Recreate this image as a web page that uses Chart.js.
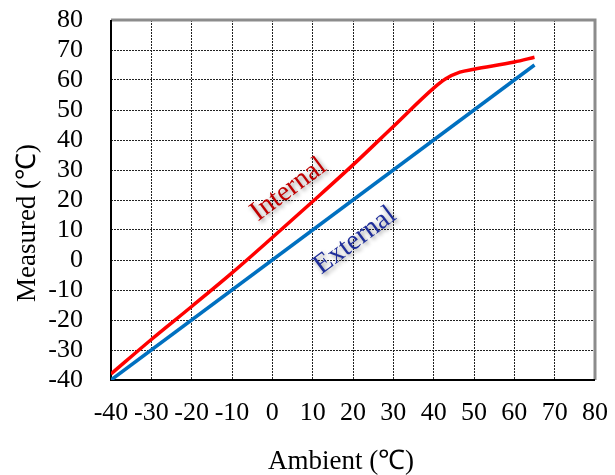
<!DOCTYPE html>
<html>
<head>
<meta charset="utf-8">
<script src="https://cdn.jsdelivr.net/npm/chart.js@4/dist/chart.umd.min.js"></script>
<style>
  html, body { margin: 0; padding: 0; background: #fff; }
  #wrap { width: 615px; height: 475px; position: relative; }
</style>
</head>
<body>
<div id="wrap"><canvas id="c"></canvas></div>
<script>
// Data
const internalX = [-40, -30, -20, -10, 0, 10, 20, 30, 40, 43, 46.5, 50, 60, 65];
const internalY = [-38, -26.5, -15.5, -4.3, 7.5, 19.5, 31.7, 44.5, 57.3, 60.4, 62.6, 63.6, 66, 67.6];
const externalX = [-40, 65];
const externalY = [-40, 65];
const xTicks = [-40, -30, -20, -10, 0, 10, 20, 30, 40, 50, 60, 70, 80];
const yTicks = [-40, -30, -20, -10, 0, 10, 20, 30, 40, 50, 60, 70, 80];
const xTitle = 'Ambient (℃)';
const yTitle = 'Measured (℃)';

// in-plot labels: text, data position, colour
const curveLabels = [
    { text: 'Internal', x: 4, y: 23.5, color: '#C00000' },
    { text: 'External', x: 20.5, y: 6.5, color: '#1F2E9A' }
];

const serif = "'Liberation Serif', 'Times New Roman', serif";

const toPoints = (xs, ys) => xs.map((x, i) => ({ x: x, y: ys[i] }));

const frame = {
    id: 'frame',
    beforeDatasetsDraw(chart) {
        const { ctx, chartArea: a } = chart;
        ctx.save();
        // grey top & right edge, black left & bottom
        ctx.strokeStyle = '#8c8c8c';
        ctx.lineWidth = 3;
        ctx.beginPath();
        ctx.moveTo(a.left, a.top);
        ctx.lineTo(a.right, a.top);
        ctx.lineTo(a.right, a.bottom);
        ctx.stroke();
        ctx.strokeStyle = '#000';
        ctx.lineWidth = 2;
        ctx.beginPath();
        ctx.moveTo(a.left, a.top);
        ctx.lineTo(a.left, a.bottom);
        ctx.lineTo(a.right, a.bottom);
        ctx.stroke();
        ctx.restore();
    }
};

const labelsPlugin = {
    id: 'curveLabels',
    afterDatasetsDraw(chart) {
        const { ctx, scales } = chart;
        const ang = Math.atan2(scales.y.getPixelForValue(0) - scales.y.getPixelForValue(10),
                               scales.x.getPixelForValue(10) - scales.x.getPixelForValue(0));
        ctx.save();
        ctx.font = '28px ' + serif;
        ctx.textAlign = 'center';
        ctx.textBaseline = 'middle';
        curveLabels.forEach(l => {
            ctx.save();
            ctx.translate(scales.x.getPixelForValue(l.x), scales.y.getPixelForValue(l.y));
            ctx.rotate(-ang);
            ctx.shadowColor = 'rgba(0,0,0,0.45)';
            ctx.shadowBlur = 4;
            ctx.shadowOffsetX = 2;
            ctx.shadowOffsetY = 2;
            ctx.fillStyle = l.color;
            ctx.fillText(l.text, 0, 0);
            ctx.restore();
        });

        // axis titles (slightly off-centre, as in the original)
        const a = chart.chartArea;
        ctx.font = '27px ' + serif;
        ctx.fillStyle = '#000';
        ctx.fillText(xTitle, (a.left + a.right) / 2 - 12, a.bottom + 82);
        ctx.translate(28, (a.top + a.bottom) / 2 + 23);
        ctx.rotate(-Math.PI / 2);
        ctx.fillText(yTitle, 0, 0);
        ctx.restore();
    }
};

new Chart(document.getElementById('c'), {
    type: 'scatter',
    data: {
        datasets: [
            {
                label: 'Internal',
                data: toPoints(internalX, internalY),
                showLine: true,
                borderColor: '#FF0000',
                borderWidth: 3.5,
                pointRadius: 0,
                cubicInterpolationMode: 'monotone'
            },
            {
                label: 'External',
                data: toPoints(externalX, externalY),
                showLine: true,
                borderColor: '#0070C0',
                borderWidth: 3.5,
                pointRadius: 0
            }
        ]
    },
    options: {
        responsive: true,
        maintainAspectRatio: false,
        animation: false,
        layout: { padding: { top: 20, right: 20, left: 0, bottom: 0 } },
        plugins: {
            legend: { display: false },
            tooltip: { enabled: false }
        },
        scales: {
            x: {
                type: 'linear',
                min: -40,
                max: 80,
                afterBuildTicks: s => { s.ticks = xTicks.map(v => ({ value: v })); },
                afterFit: s => { s.height = 95; s.paddingLeft = 0; s.paddingRight = 0; },
                border: { display: false, dash: [2, 1] },
                grid: { color: '#222', lineWidth: 1, drawTicks: false },
                ticks: { color: '#000', padding: 18, autoSkip: false, font: { family: serif, size: 26 }, maxRotation: 0 }
            },
            y: {
                type: 'linear',
                min: -40,
                max: 80,
                afterBuildTicks: s => { s.ticks = yTicks.map(v => ({ value: v })); },
                afterFit: s => { s.width = 111; s.paddingTop = 0; s.paddingBottom = 0; },
                border: { display: false, dash: [2, 1] },
                grid: { color: '#222', lineWidth: 1, drawTicks: false },
                ticks: { color: '#000', padding: 28, autoSkip: false, font: { family: serif, size: 26 } }
            }
        }
    },
    plugins: [frame, labelsPlugin]
});
</script>
</body>
</html>
